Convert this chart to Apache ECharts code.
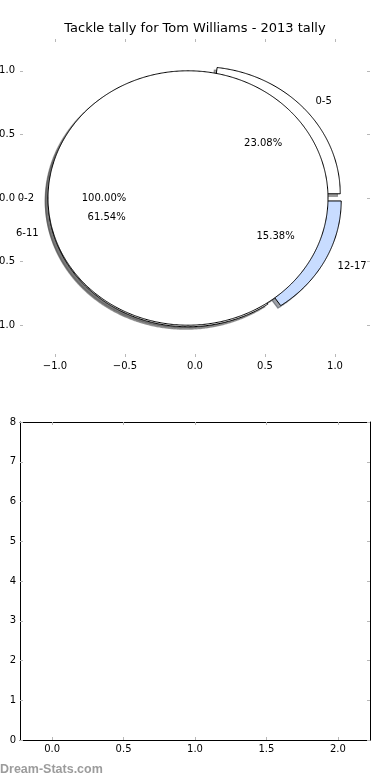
<!DOCTYPE html>
<html><head><meta charset="utf-8">
<script src="https://cdn.jsdelivr.net/npm/echarts@6/dist/echarts.min.js"></script>
<style>html,body{margin:0;padding:0;background:#fff}#c{width:390px;height:780px}</style>
</head><body><div id="c"></div>
<script>
// ---- data ----
const chartTitle = 'Tackle tally for Tom Williams - 2013 tally';
const outerLabels = ['0-2'];
const outerValues = [13];
const outerColors = ['#ffffff'];
const innerLabels = ['0-5', '6-11', '12-17'];
const innerValues = [3, 8, 2];
const innerColors = ['#ffffff', '#ffffff', '#c8dcff'];
const pieTicks = [-1, -0.5, 0, 0.5, 1];
const barXTicks = [0, 0.5, 1, 1.5, 2];
const watermarkText = 'Dream-Stats.com';

// ---- pie geometry (matplotlib style) ----
const EXPLODE = 0.05, SHADOW = 0.02, LABEL_R = 1.1, PCT_R = 0.6, RADIUS = 1;
function buildPie(labels, values, colors) {
  const total = values.reduce((a, b) => a + b, 0);
  let t1 = 0; const out = [];
  values.forEach((v, i) => {
    const frac = v / total; const t2 = t1 + frac * 360;
    const mid = (t1 + t2) / 2 * Math.PI / 180;
    out.push({
      label: labels[i], pct: (100 * frac).toFixed(2) + '%', color: colors[i],
      t1: t1, t2: t2, mid: mid,
      cx: EXPLODE * Math.cos(mid), cy: EXPLODE * Math.sin(mid),
      full: frac >= 0.99999
    });
    t1 = t2;
  });
  return out;
}
const wedges = buildPie(innerLabels, innerValues, innerColors)
  .concat(buildPie(outerLabels, outerValues, outerColors));

function hexToRgb(h) {
  const n = parseInt(h.slice(1), 16);
  return [(n >> 16) & 255, (n >> 8) & 255, n & 255];
}
function wedgePoints(api, w, ox, oy) {
  const pts = [];
  const cx = w.cx + ox, cy = w.cy + oy;
  if (!w.full) pts.push(api.coord([cx, cy]));
  const n = Math.max(8, Math.ceil(Math.abs(w.t2 - w.t1) / 0.5));
  for (let k = 0; k <= n; k++) {
    const a = (w.t1 + (w.t2 - w.t1) * k / n) * Math.PI / 180;
    pts.push(api.coord([cx + RADIUS * Math.cos(a), cy + RADIUS * Math.sin(a)]));
  }
  return pts;
}

const labelItems = [];
wedges.forEach(w => {
  const c = Math.cos(w.mid), s = Math.sin(w.mid);
  labelItems.push({ x: w.cx + LABEL_R * c, y: w.cy + LABEL_R * s, text: w.label, align: c > 0 ? 'left' : 'right' });
  labelItems.push({ x: w.cx + PCT_R * c, y: w.cy + PCT_R * s, text: w.pct, align: 'center' });
});

const fmt = v => (v < 0 ? '\u2212' : '') + Math.abs(v).toFixed(1);
const TICK = '#b8b8b8';
const FONT = 'DejaVu Sans';
const lbl = (extra) => Object.assign({ fontSize: 10, color: '#000', fontFamily: FONT }, extra);

const chart = echarts.init(document.getElementById('c'), null, { renderer: 'canvas' });
chart.setOption({
  animation: false,
  backgroundColor: '#fff',
  title: {
    text: chartTitle, left: 'center', top: 22, padding: 0,
    textStyle: { fontSize: 13, fontWeight: 'normal', color: '#000', fontFamily: FONT }
  },
  graphic: [{
    type: 'text', left: 0, top: 763,
    style: { text: watermarkText, fill: '#9c9c9c', fontSize: 12.5, fontWeight: 'bold', fontFamily: 'Liberation Sans' }
  }],
  grid: [
    { left: 20, top: 39, width: 350, height: 318, containLabel: false, outerBoundsMode: 'none' },
    { left: 20, top: 422, width: 350, height: 318, containLabel: false, outerBoundsMode: 'none' }
  ],
  xAxis: [
    { gridIndex: 0, type: 'value', min: -1.25, max: 1.25, position: 'bottom',
      axisLine: { show: false, onZero: false }, splitLine: { show: false },
      axisTick: { customValues: pieTicks, inside: true, length: 3, lineStyle: { color: TICK } },
      axisLabel: lbl({ customValues: pieTicks, formatter: fmt, margin: 4 }) },
    { gridIndex: 0, type: 'value', min: -1.25, max: 1.25, position: 'top',
      axisLine: { show: false, onZero: false }, splitLine: { show: false },
      axisTick: { customValues: pieTicks, inside: true, length: 3, lineStyle: { color: TICK } },
      axisLabel: { show: false } },
    { gridIndex: 1, type: 'value', min: -0.225, max: 2.225, position: 'bottom',
      axisLine: { show: true, onZero: false, lineStyle: { color: '#000', width: 1 } }, splitLine: { show: false },
      axisTick: { customValues: barXTicks, inside: true, length: 3, lineStyle: { color: TICK } },
      axisLabel: lbl({ customValues: barXTicks, formatter: fmt, margin: 4 }) },
    { gridIndex: 1, type: 'value', min: -0.225, max: 2.225, position: 'top',
      axisLine: { show: true, onZero: false, lineStyle: { color: '#000', width: 1 } }, splitLine: { show: false },
      axisTick: { customValues: barXTicks, inside: true, length: 3, lineStyle: { color: TICK } },
      axisLabel: { show: false } }
  ],
  yAxis: [
    { gridIndex: 0, type: 'value', min: -1.25, max: 1.25, position: 'left',
      axisLine: { show: false, onZero: false }, splitLine: { show: false },
      axisTick: { customValues: pieTicks, inside: true, length: 3, lineStyle: { color: TICK } },
      axisLabel: lbl({ customValues: pieTicks, formatter: fmt, margin: 5 }) },
    { gridIndex: 0, type: 'value', min: -1.25, max: 1.25, position: 'right',
      axisLine: { show: false, onZero: false }, splitLine: { show: false },
      axisTick: { customValues: pieTicks, inside: true, length: 3, lineStyle: { color: TICK } },
      axisLabel: { show: false } },
    { gridIndex: 1, type: 'value', min: 0, max: 8, interval: 1, position: 'left',
      axisLine: { show: true, onZero: false, lineStyle: { color: '#000', width: 1 } }, splitLine: { show: false },
      axisTick: { inside: true, length: 3, lineStyle: { color: TICK } },
      axisLabel: lbl({ margin: 4 }) },
    { gridIndex: 1, type: 'value', min: 0, max: 8, interval: 1, position: 'right',
      axisLine: { show: true, onZero: false, lineStyle: { color: '#000', width: 1 } }, splitLine: { show: false },
      axisTick: { inside: true, length: 3, lineStyle: { color: TICK } },
      axisLabel: { show: false } }
  ],
  series: [
    { type: 'custom', xAxisIndex: 0, yAxisIndex: 0, clip: false, silent: true, z: 1,
      data: wedges.map(w => [w.cx, w.cy]),
      renderItem: (params, api) => {
        const w = wedges[params.dataIndex];
        const rgb = hexToRgb(w.color).map(c => Math.round(c * 0.3));
        const col = 'rgba(' + rgb.join(',') + ',0.5)';
        return { type: 'polygon', shape: { points: wedgePoints(api, w, -SHADOW, -SHADOW) },
          style: { fill: col, stroke: col, lineWidth: 1.2 } };
      } },
    { type: 'custom', xAxisIndex: 0, yAxisIndex: 0, clip: false, silent: true, z: 2,
      data: wedges.map(w => [w.cx, w.cy]),
      renderItem: (params, api) => {
        const w = wedges[params.dataIndex];
        return { type: 'polygon', shape: { points: wedgePoints(api, w, 0, 0) },
          style: { fill: w.color, stroke: '#000', lineWidth: 1, lineJoin: 'miter' } };
      } },
    { type: 'custom', xAxisIndex: 0, yAxisIndex: 0, clip: false, silent: true, z: 3,
      data: labelItems.map(l => [l.x, l.y]),
      renderItem: (params, api) => {
        const l = labelItems[params.dataIndex];
        const p = api.coord([l.x, l.y]);
        return { type: 'text', x: p[0], y: p[1],
          style: { text: l.text, fill: '#000', fontSize: 10, fontFamily: FONT, align: l.align, verticalAlign: 'middle' } };
      } },
    { type: 'line', xAxisIndex: 2, yAxisIndex: 2, data: [] }
  ]
});
</script>
</body></html>
